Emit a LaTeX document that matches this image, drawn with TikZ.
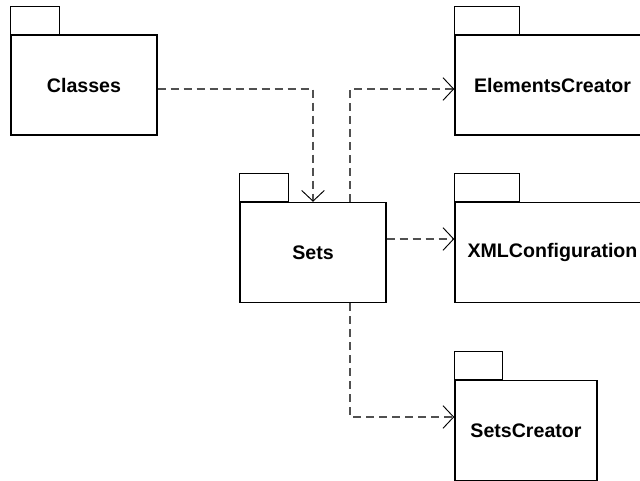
\documentclass[tikz,border=0pt]{standalone}
\usepackage{fontspec}
\setmainfont{Liberation Sans}
\usetikzlibrary{arrows.meta}
\definecolor{depgray}{RGB}{80,80,80}
\tikzset{
  pkg/.style={draw, line width=1.1pt, inner sep=0pt, minimum height=75pt,
    font=\fontsize{14.7}{17}\selectfont\bfseries},
  pkgtab/.style={draw, line width=1.1pt},
  dep/.style={draw=depgray, line width=0.8pt, dash pattern=on 6pt off 3.75pt,
    -{Straight Barb[length=8pt,width=17pt,line width=0.7pt,color=black]}}
}
\begin{document}
\begin{tikzpicture}[x=0.75pt,y=0.75pt,yscale=-1,xscale=1]
\useasboundingbox (0,0) rectangle (640,481);
\clip (0,0) rectangle (640,481);

%Shape: Package [Classes]
\node [pkg, minimum width=109.5pt] (classes) at (84,85) {Classes};
\draw [pkgtab] (classes.north west) rectangle ++(49,-28);
%Shape: Package [ElementsCreator]
\node [pkg, minimum width=146.25pt] (elements) at (552.5,85) {ElementsCreator};
\draw [pkgtab] (elements.north west) rectangle ++(65,-28);
%Shape: Package [Sets]
\node [pkg, minimum width=109.5pt] (sets) at (313,252.5) {Sets};
\draw [pkgtab] (sets.north west) rectangle ++(49,-28);
%Shape: Package [XMLConfiguration]
\node [pkg, minimum width=146.25pt] (xml) at (552.5,252.5) {XMLConfiguration};
\draw [pkgtab] (xml.north west) rectangle ++(65,-28);
%Shape: Package [SetsCreator]
\node [pkg, minimum width=106.5pt] (setscreator) at (526,430.5) {SetsCreator};
\draw [pkgtab] (setscreator.north west) rectangle ++(48,-28);

%Bends of the dependencies
\coordinate (bendA) at (313,89);
\coordinate (bendB) at (350,89);
\coordinate (midC) at (420,239);
\coordinate (bendD) at (350,417);

%Dependencies
\draw [dep] (classes.east |- bendA) -- (bendA) -- (sets.north -| bendA);
\draw [dep] (sets.north -| bendB) -- (bendB) -- (elements.west |- bendB);
\draw [dep] (sets.east |- midC) -- (xml.west |- midC);
\draw [dep] (sets.south -| bendD) -- (bendD) -- (setscreator.west |- bendD);

\end{tikzpicture}
\end{document}
